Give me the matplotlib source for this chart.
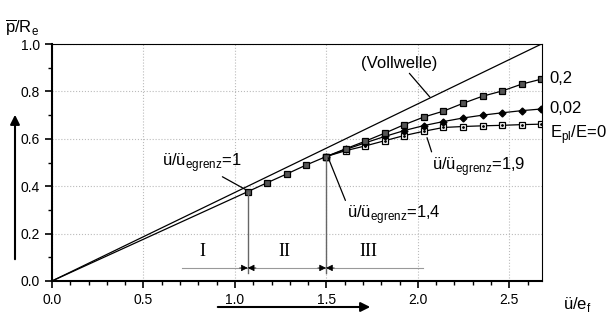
import matplotlib
matplotlib.use('Agg')
import matplotlib.pyplot as plt
from matplotlib.ticker import MultipleLocator

plt.rcParams['font.family'] = ['Liberation Sans', 'DejaVu Sans']
plt.rcParams['mathtext.fontset'] = 'custom'
plt.rcParams['mathtext.rm'] = 'Liberation Sans'

# gemeinsamer Abschnitt (alle Kurven gleich)
x_common = [1.07, 1.177, 1.284, 1.391, 1.498]
y_common = [0.377, 0.415, 0.452, 0.490, 0.525]

# getrennte Abschnitte ab ü/e_f = 1.5
x_split = [1.498, 1.605, 1.712, 1.819, 1.926, 2.033, 2.14, 2.247, 2.354, 2.461, 2.568, 2.675]
y_02 = [0.525, 0.558, 0.590, 0.624, 0.660, 0.692, 0.717, 0.750, 0.780, 0.802, 0.831, 0.852]
y_002 = [0.525, 0.555, 0.583, 0.610, 0.635, 0.656, 0.673, 0.688, 0.700, 0.710, 0.719, 0.726]
y_0 = [0.525, 0.550, 0.570, 0.592, 0.614, 0.632, 0.648, 0.652, 0.655, 0.657, 0.660, 0.662]

# Vollwelle
x_voll = [0.0, 2.675]
y_voll = [0.0, 1.0]

# Bereichsgrenzen I / II / III
x_bereich = [0.71, 1.07, 1.498, 2.03]

fig = plt.figure(figsize=(6.09, 3.29), dpi=100)
ax = fig.add_axes([0.0854, 0.146, 0.805, 0.72])

ax.set_xlim(0, 2.68)
ax.set_ylim(0, 1.0)
ax.xaxis.set_major_locator(MultipleLocator(0.5))
ax.xaxis.set_minor_locator(MultipleLocator(0.1))
ax.yaxis.set_major_locator(MultipleLocator(0.2))
ax.yaxis.set_minor_locator(MultipleLocator(0.1))
ax.tick_params(which='major', direction='out', length=5, width=1.2, labelsize=10)
ax.tick_params(which='minor', direction='out', length=3, width=1.0)
ax.xaxis.set_major_formatter(plt.FuncFormatter(lambda v, p: f"{v:.1f}"))
ax.yaxis.set_major_formatter(plt.FuncFormatter(lambda v, p: f"{v:.1f}"))
for s in ['left', 'bottom']:
    ax.spines[s].set_linewidth(1.5)
ax.grid(True, which='major', color='#bbbbbb', linestyle=':', linewidth=0.8)

# Linien
ax.plot(x_voll, y_voll, color='black', lw=0.9)
ax.plot([0, x_common[0]], [0, y_common[0]], color='black', lw=0.9)
ax.plot(x_common, y_common, color='black', lw=0.9, marker='s', ms=5,
        mfc='#555555', mec='black', mew=0.9)
ax.plot(x_split, y_0, color='black', lw=0.9, marker='s', ms=5,
        mfc='white', mec='black', mew=0.9)
ax.plot(x_split[1:], y_0[1:], ls='none', marker='.', ms=2, color='black')
ax.plot(x_split, y_002, color='black', lw=0.9, marker='D', ms=3.5,
        mfc='black', mec='black')
ax.plot(x_split, y_02, color='black', lw=0.9, marker='s', ms=5,
        mfc='#555555', mec='black', mew=0.9)

# Kurvenbeschriftungen rechts
ax.text(2.72, 0.855, '0,2', fontsize=12, va='center', clip_on=False)
ax.text(2.72, 0.73, '0,02', fontsize=12, va='center', clip_on=False)
ax.text(2.72, 0.62, r'E$_{\rm pl}$/E=0', fontsize=12, va='center', clip_on=False)

# Anmerkungen
line = dict(arrowstyle='-', color='black', lw=0.9, shrinkA=0, shrinkB=0)
ax.annotate('(Vollwelle)', xy=(2.066, 0.776), xytext=(1.69, 0.92), fontsize=12,
            va='center', arrowprops=dict(line, relpos=(0.6, 0.0)))
ax.annotate(r'ü/ü$_{\rm egrenz}$=1', xy=(1.06, 0.385), xytext=(0.60, 0.50),
            fontsize=12, va='center', arrowprops=dict(line, relpos=(0.7, 0.0)))
ax.annotate(r'ü/ü$_{\rm egrenz}$=1,4', xy=(1.51, 0.52), xytext=(1.61, 0.28),
            fontsize=12, va='center', arrowprops=dict(line, relpos=(0.0, 1.0)))
ax.annotate(r'ü/ü$_{\rm egrenz}$=1,9', xy=(2.05, 0.605), xytext=(2.08, 0.485),
            fontsize=12, va='center', arrowprops=dict(line, relpos=(0.0, 1.0)))

# Bereiche I, II, III
ax.plot([x_bereich[1]] * 2, [0.035, y_common[0]], color='#666666', lw=1.0)
ax.plot([x_bereich[2]] * 2, [0.035, y_common[-1]], color='#666666', lw=1.0)
yb = 0.055
ax.plot([x_bereich[0], x_bereich[3]], [yb, yb], color='#999999', lw=0.8)
head = dict(arrowstyle='-|>', color='black', lw=0.5, mutation_scale=10,
            shrinkA=0, shrinkB=0)
d = 0.045
for xs, xe in [(x_bereich[1] - d, x_bereich[1]), (x_bereich[1] + d, x_bereich[1]),
               (x_bereich[2] - d, x_bereich[2]), (x_bereich[2] + d, x_bereich[2])]:
    ax.annotate('', xy=(xe, yb), xytext=(xs, yb), arrowprops=head)
ax.text(0.82, 0.125, 'I', family='Liberation Serif', fontsize=13, ha='center', va='center')
ax.text(1.27, 0.125, 'II', family='Liberation Serif', fontsize=13, ha='center', va='center')
ax.text(1.73, 0.125, 'III', family='Liberation Serif', fontsize=13, ha='center', va='center')

# Achsenbeschriftungen mit Pfeilen
fig.text(0.008, 0.915, r'$\overline{\rm p}$/R$_{\rm e}$', fontsize=12, va='center')
fig.text(0.925, 0.075, r'ü/e$_{\rm f}$', fontsize=12, va='center')
fig.add_artist(matplotlib.patches.FancyArrowPatch(
    (15 / 609, 1 - 262 / 329), (15 / 609, 1 - 112 / 329),
    transform=fig.transFigure, arrowstyle='-|>', mutation_scale=14, lw=1.5, color='black'))
fig.add_artist(matplotlib.patches.FancyArrowPatch(
    (215 / 609, 1 - 307 / 329), (373 / 609, 1 - 307 / 329),
    transform=fig.transFigure, arrowstyle='-|>', mutation_scale=14, lw=1.5, color='black'))

fig.savefig('out.png', dpi=100)
